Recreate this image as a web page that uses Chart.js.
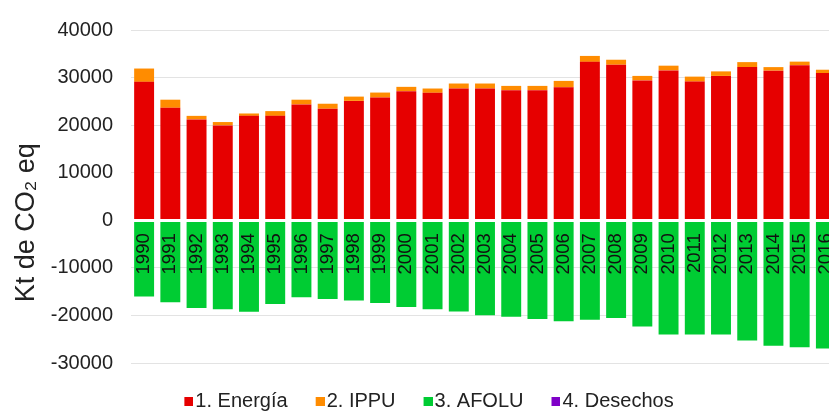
<!DOCTYPE html>
<html>
<head>
<meta charset="utf-8">
<script src="https://cdn.jsdelivr.net/npm/chart.js@4.4.0/dist/chart.umd.min.js"></script>
<style>
  html, body { margin: 0; padding: 0; background: #fff; overflow: hidden; }
</style>
</head>
<body>
<canvas id="chart" width="843" height="412"></canvas>
<script>
const years = ["1990", "1991", "1992", "1993", "1994", "1995", "1996", "1997", "1998",
  "1999", "2000", "2001", "2002", "2003", "2004", "2005", "2006", "2007", "2008",
  "2009", "2010", "2011", "2012", "2013", "2014", "2015", "2016"];

const energia = [29100, 23650, 21200, 19950, 21950, 21950, 24350, 23450, 25100,
  25800, 27150, 26800, 27700, 27700, 27350, 27350, 27950, 33300, 32700,
  29400, 31500, 29150, 30350, 32200, 31450, 32600, 30950];

const ippu = [2800, 1700, 750, 700, 500, 1000, 1000, 1050, 900,
  1050, 900, 900, 1050, 1050, 900, 900, 1350, 1250, 1050,
  950, 1000, 1050, 950, 1050, 750, 750, 700];

const afolu = [-16000, -17250, -18450, -18700, -19250, -17600, -16200, -16550, -16850,
  -17400, -18250, -18700, -19150, -19950, -20300, -20750, -21200, -20900, -20550,
  -22350, -24000, -24000, -24000, -25250, -26350, -26700, -26950];

const desechos = years.map(() => 0);

const seriesNames = ["1. Energía", "2. IPPU", "3. AFOLU", "4. Desechos"];
const colors = ["#e60000", "#ff8c00", "#00cc33", "#7f00c8"];

// small legend square drawn at the right of a wider canvas, so the text sits close to it
function swatch(color) {
  const c = document.createElement("canvas");
  c.width = 25;
  c.height = 9;
  const g = c.getContext("2d");
  g.fillStyle = color;
  g.fillRect(16, 0, 9, 9);
  return c;
}

Chart.defaults.font.family = "'Liberation Sans', Arial, sans-serif";

new Chart(document.getElementById("chart"), {
  type: "bar",
  data: {
    labels: years,
    datasets: [energia, ippu, afolu, desechos].map((d, i) => ({
      label: seriesNames[i],
      data: d,
      backgroundColor: colors[i],
      borderWidth: 0,
      barPercentage: 0.76,
      categoryPercentage: 1
    }))
  },
  options: {
    responsive: false,
    animation: false,
    layout: { padding: { left: 11, right: 4, top: 25, bottom: -9 } },
    plugins: {
      tooltip: { enabled: false },
      legend: {
        position: "bottom",
        // empty title only pushes the row down a little
        title: { display: true, text: "", font: { size: 5 }, padding: { top: 2, bottom: 0 } },
        labels: {
          usePointStyle: true,
          boxWidth: 9,
          boxHeight: 9,
          padding: 20,
          color: "#222",
          font: { size: 20 },
          generateLabels: chart => {
            const items = Chart.defaults.plugins.legend.labels.generateLabels(chart);
            items.forEach((it, i) => { it.pointStyle = swatch(colors[i]); });
            return items;
          }
        }
      }
    },
    scales: {
      x: {
        stacked: true,
        position: { y: 0 },
        grid: { display: false, drawTicks: false },
        border: { color: "#fff", width: 3, z: 1 },
        ticks: {
          z: 1,
          autoSkip: false,
          minRotation: 90,
          maxRotation: 90,
          padding: 13,
          color: "#111",
          font: { size: 18.5 }
        },
        afterFit: s => { s.paddingLeft = 0; s.paddingRight = 0; }
      },
      y: {
        stacked: true,
        min: -30000,
        max: 40000,
        grid: { color: "#e3e3e3", drawTicks: false },
        border: { display: false },
        ticks: {
          stepSize: 10000,
          padding: 18,
          color: "#222",
          font: { size: 20 },
          callback: v => String(v)
        },
        title: {
          display: true,
          text: "Kt de CO₂ eq       ",
          color: "#222",
          font: { size: 27 },
          padding: { top: -1, bottom: 0 }
        },
        afterFit: s => { s.width = 120; }
      }
    }
  }
});
</script>
</body>
</html>
